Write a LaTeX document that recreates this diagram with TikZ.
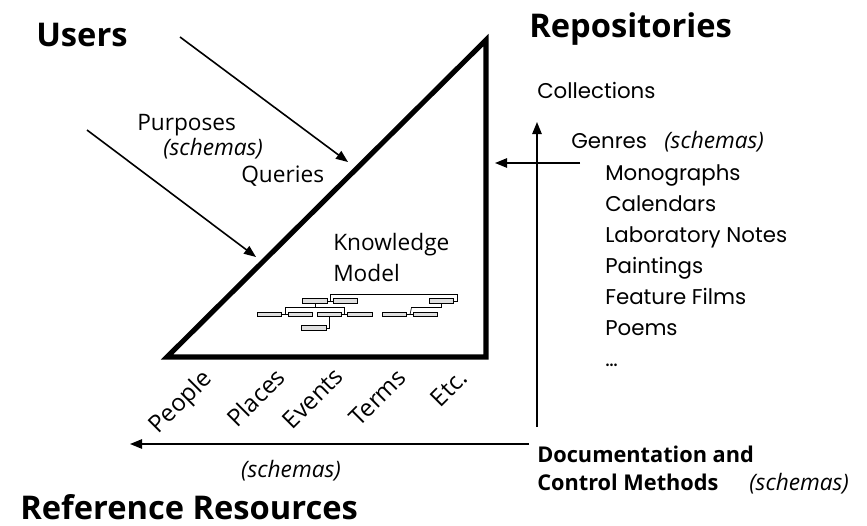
\documentclass[tikz,border=0pt]{standalone}
\usepackage{fontspec}
\setmainfont{Open Sans}
\newfontfamily\geofont{Poppins}
\usepackage{tikz}
\usetikzlibrary{
  arrows.meta,
  positioning,
  calc
}

\begin{document}
\begin{tikzpicture}[
  x=0.75pt, y=-0.75pt,
  txt/.style={inner sep=0pt, anchor=base west, font=\fontsize{17}{20}\selectfont},
  emph/.style={txt, font=\fontsize{17}{20}\selectfont\itshape},
  genre/.style={inner sep=0pt, anchor=base west, font=\geofont\fontsize{16}{19}\selectfont},
  head/.style={inner sep=0pt, anchor=base west, font=\fontsize{24.5}{28}\selectfont\bfseries},
  facet/.style={inner sep=0pt, anchor=base east, rotate=45, font=\fontsize{18}{21}\selectfont},
  docu/.style={inner sep=0pt, anchor=base west, font=\fontsize{16.3}{19}\selectfont\bfseries},
  flow/.style={line width=1.2pt, -{Triangle[length=9pt,width=7pt]}},
  kbox/.style={draw, line width=0.6pt, fill=gray!25, inner sep=0pt,
               minimum width=18.5pt, minimum height=3.2pt},
  klink/.style={line width=0.5pt},
]
  \useasboundingbox (0,0) rectangle (867,525);

  % Knowledge model triangle
  \coordinate (triL) at (167,357);
  \coordinate (triT) at (486,40);
  \coordinate (triR) at (486,357);
  \draw[line width=3.8pt, line join=miter] (triL) -- (triT) -- (triR) -- cycle;

  % Headings
  \node[head] (users) at (36,46) {Users};
  \node[head] (repos) at (529,37) {Repositories};
  \node[head] (refres) at (20,519) {Reference Resources};

  % Users side
  \node[txt] (purposes) at (137,130) {Purposes};
  \node[emph] (purpschema) at (163,155) {(schemas)};
  \node[txt] (queries) at (241,182) {Queries};
  \coordinate (qStart) at (180,37);
  \coordinate (qEnd) at (348,162);
  \coordinate (pStart) at (87,130);
  \coordinate (pEnd) at (256,257);
  \draw[flow] (qStart) -- (qEnd);
  \draw[flow] (pStart) -- (pEnd);

  % Knowledge model and its tree
  \node[txt] (know) at (333,250) {Knowledge};
  \node[txt] (model) at (333,281) {Model};

  \node[kbox] (kA) at (315,301) {};
  \node[kbox] (kB) at (345.5,301) {};
  \node[kbox] (kC) at (441.5,301) {};
  \node[kbox] (kD) at (269.5,314.5) {};
  \node[kbox] (kE) at (300.5,314.5) {};
  \node[kbox] (kF) at (329.5,314.5) {};
  \node[kbox] (kG) at (360,314.5) {};
  \node[kbox] (kH) at (394.5,314.5) {};
  \node[kbox] (kI) at (425.5,314.5) {};
  \node[kbox] (kJ) at (314,328) {};

  \draw[klink] (kA.east) -- (kB.west);
  \draw[klink] ($(kA.east)!0.5!(kB.west)$) -- ++(0,-7) -| ($(kC.east)+(3,0)$) -- (kC.east);
  \draw[klink] (kA.south) -- ++(0,4) coordinate (kAm);
  \draw[klink] (kD.east) -- (kE.west);
  \draw[klink] (kF.east) -- (kG.west);
  \draw[klink] ($(kD.east)!0.5!(kE.west)$) |- (kAm) -| ($(kF.east)!0.5!(kG.west)$);
  \draw[klink] (kH.east) -- (kI.west);
  \draw[klink] (kC.south) |- ++(-30,4) -- ($(kH.east)!0.5!(kI.west)$);
  \draw[klink] (kF.south) |- (kJ.east);

  % Facets of reference resources
  \node[facet] (people) at (213,380) {People};
  \node[facet] (places) at (287,379) {Places};
  \node[facet] (events) at (345,378) {Events};
  \node[facet] (terms) at (408,379) {Terms};
  \node[facet] (etc) at (469,380) {Etc.};

  % Repositories side
  \node[genre] (coll) at (537,98) {Collections};
  \node[genre] (genres) at (571,148) {Genres};
  \node[emph] (genschema) at (664,148) {(schemas)};
  \node[genre] (mono) at (605,180) {Monographs};
  \node[genre] (cal) at (605,211) {Calendars};
  \node[genre] (lab) at (605,242) {Laboratory Notes};
  \node[genre] (paint) at (605,273) {Paintings};
  \node[genre] (film) at (605,304) {Feature Films};
  \node[genre] (poem) at (605,335) {Poems};
  \node[genre] (more) at (605,366) {\dots};

  \coordinate (vBot) at (537,427);
  \coordinate (vTop) at (537,122);
  \coordinate (hStart) at (580,163);
  \coordinate (hEnd) at (495,163);
  \draw[flow] (vBot) -- (vTop);
  \draw[flow] (hStart) -- (hEnd);

  % Documentation and control
  \node[docu] (docA) at (537,462) {Documentation and};
  \node[docu] (docB) at (537,490) {Control Methods};
  \node[emph] (docschema) at (749,490) {(schemas)};

  \coordinate (bStart) at (529,444);
  \coordinate (bEnd) at (130,444);
  \draw[flow] (bStart) -- (bEnd);
  \node[emph, anchor=base] (refschema) at (291,477) {(schemas)};

\end{tikzpicture}
\end{document}
